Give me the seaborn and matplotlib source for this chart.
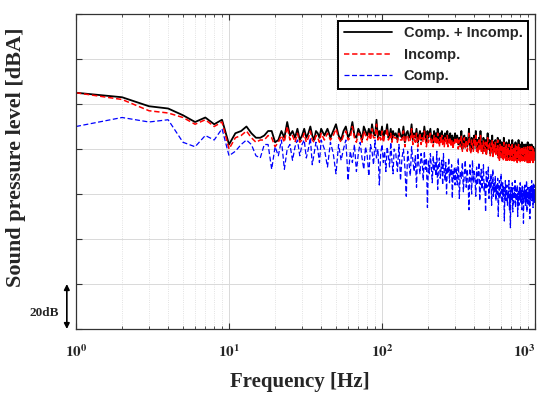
import numpy as np
import pandas as pd
import matplotlib
matplotlib.use("Agg")
import matplotlib.pyplot as plt
import seaborn as sns

# ---- frequency sampling [Hz] ----
freq_lo = np.arange(1, 41)          # 1 .. 40
freq_mid = np.arange(42, 121, 2)    # 42 .. 120
freq_hi1 = np.arange(123, 301, 3)   # 123 .. 300
freq_hi2 = np.arange(305, 1001, 5)  # 305 .. 1000

# ---- Comp. + Incomp. (total) [dBA] ----
total_lo = [105, 103, 99, 98, 95, 92, 94, 91, 93, 82,
            87, 88, 90, 87, 85, 85, 86, 88, 88, 83,
            84, 88, 85, 92, 86, 88, 85, 89, 84, 86,
            89, 85, 87, 90, 86, 84, 88, 87, 85, 89]
total_mid = [86, 89, 85, 88, 91, 86, 84, 88, 90, 85,
             87, 92, 86, 85, 89, 87, 84, 90, 88, 86,
             89, 85, 91, 87, 86, 93, 85, 88, 86, 90,
             84, 88, 87, 91, 85, 86, 89, 84, 88, 86]
total_hi1 = [87, 84, 89, 86, 85, 90, 83, 87, 88, 85,
             86, 91, 84, 87, 85, 89, 83, 86, 88, 84,
             87, 85, 90, 86, 83, 88, 85, 87, 89, 84,
             86, 83, 88, 85, 87, 84, 89, 85, 83, 87,
             85, 88, 84, 86, 83, 87, 85, 84, 88, 83,
             86, 84, 87, 83, 85, 86, 82, 85, 84, 87]
total_hi2 = [84, 86, 82, 85, 82, 88, 80, 84, 86, 81,
             85, 81, 83, 89, 82, 79, 85, 84, 80, 86,
             82, 88, 80, 84, 80, 85, 81, 88, 80, 83,
             79, 85, 82, 80, 84, 78, 83, 87, 80, 82,
             84, 78, 82, 80, 86, 77, 83, 79, 81, 84,
             78, 82, 79, 85, 77, 81, 76, 84, 80, 78,
             83, 77, 81, 76, 85, 79, 77, 82, 76, 83,
             80, 76, 82, 78, 84, 76, 80, 77, 82, 76,
             80, 84, 76, 78, 82, 75, 80, 77, 83, 76,
             79, 82, 75, 80, 77, 84, 76, 78, 82, 75,
             80, 76, 78, 83, 75, 80, 77, 76, 82, 78,
             75, 80, 78, 82, 76, 78, 80, 75, 83, 77,
             78, 75, 80, 77, 82, 75, 78, 80, 76, 82,
             76, 80, 78, 75, 81, 77, 76, 80, 78, 77]

# ---- Incomp. [dBA] ----
incomp_lo = [105, 102, 97, 96, 94, 91, 93, 90, 92, 80,
             85, 86, 88, 85, 83, 84, 84, 86, 85, 81,
             83, 86, 83, 90, 84, 86, 83, 87, 83, 84,
             87, 83, 85, 88, 84, 83, 86, 85, 83, 87]
incomp_mid = [84, 87, 84, 86, 89, 85, 83, 86, 88, 84,
              85, 90, 85, 83, 87, 86, 83, 88, 86, 84,
              87, 84, 89, 85, 85, 91, 84, 86, 84, 88,
              83, 86, 86, 89, 84, 85, 87, 83, 86, 85]
incomp_hi1 = [85, 83, 87, 84, 84, 88, 81, 86, 86, 83,
              84, 89, 82, 86, 83, 87, 81, 84, 87, 82,
              85, 83, 88, 84, 81, 86, 83, 85, 87, 82,
              84, 81, 86, 83, 85, 82, 87, 83, 81, 85,
              83, 86, 82, 84, 81, 85, 83, 82, 86, 81,
              84, 82, 85, 81, 83, 84, 80, 83, 82, 85]
incomp_hi2 = [83, 85, 80, 84, 81, 86, 79, 83, 85, 80,
              84, 79, 82, 87, 81, 78, 84, 82, 79, 85,
              81, 86, 79, 83, 78, 84, 80, 86, 79, 82,
              78, 84, 80, 79, 83, 77, 82, 85, 79, 81,
              83, 77, 81, 79, 84, 76, 82, 78, 80, 83,
              77, 81, 78, 84, 76, 80, 75, 82, 79, 77,
              82, 76, 80, 75, 83, 78, 76, 81, 75, 82,
              79, 75, 81, 77, 82, 75, 79, 76, 81, 75,
              79, 82, 75, 77, 81, 74, 79, 76, 82, 75,
              78, 81, 74, 79, 76, 82, 75, 77, 81, 74,
              79, 75, 77, 81, 74, 79, 76, 75, 81, 77,
              74, 79, 77, 81, 75, 77, 79, 74, 81, 76,
              77, 74, 79, 76, 81, 74, 77, 79, 75, 81,
              75, 79, 77, 74, 80, 76, 75, 79, 77, 76]

# ---- Comp. [dBA] ----
comp_lo = [90, 94, 92, 93, 83, 81, 86, 84, 89, 77,
           79, 82, 84, 82, 77, 76, 82, 82, 71, 81,
           77, 84, 71, 80, 82, 75, 81, 84, 77, 82,
           84, 76, 80, 85, 73, 78, 83, 80, 74, 84]
comp_mid = [80, 72, 83, 78, 69, 82, 75, 80, 84, 66,
            79, 74, 82, 70, 78, 83, 76, 71, 81, 77,
            68, 82, 79, 73, 84, 76, 80, 64, 78, 82,
            74, 79, 70, 81, 77, 72, 83, 75, 69, 80]
comp_hi1 = [78, 70, 82, 66, 76, 80, 72, 59, 79, 74,
            68, 81, 75, 70, 77, 63, 80, 73, 69, 78,
            74, 66, 79, 71, 76, 54, 75, 69, 78, 72,
            65, 77, 70, 74, 68, 79, 62, 73, 76, 67,
            71, 75, 64, 78, 70, 66, 74, 60, 72, 69,
            76, 65, 71, 68, 73, 58, 70, 67, 72, 64]
comp_hi2 = [72, 64, 76, 58, 70, 67, 74, 61, 69, 75,
            63, 71, 66, 53, 73, 68, 60, 75, 65, 70,
            67, 59, 72, 64, 69, 74, 57, 66, 71, 62,
            68, 73, 61, 65, 52, 70, 63, 67, 72, 58,
            66, 62, 69, 55, 64, 71, 59, 65, 61, 68,
            57, 64, 60, 67, 50, 63, 66, 58, 62, 69,
            61, 56, 65, 59, 63, 48, 60, 66, 57, 62,
            64, 55, 61, 58, 66, 53, 60, 45, 63, 57,
            59, 65, 52, 61, 56, 63, 58, 66, 54, 60,
            62, 57, 64, 50, 59, 61, 55, 63, 58, 65,
            56, 62, 59, 53, 64, 57, 61, 47, 60, 63,
            58, 64, 55, 61, 57, 66, 52, 60, 63, 56,
            61, 55, 63, 58, 49, 62, 57, 64, 59, 66,
            57, 63, 60, 54, 65, 58, 62, 56, 64, 60]

freq = np.concatenate([freq_lo, freq_mid, freq_hi1, freq_hi2])
df = pd.DataFrame({
    "freq": freq,
    "total": total_lo + total_mid + total_hi1 + total_hi2,
    "incomp": incomp_lo + incomp_mid + incomp_hi1 + incomp_hi2,
    "comp": comp_lo + comp_mid + comp_hi1 + comp_hi2,
})

sns.set_theme(style="white")
plt.rcParams["mathtext.fontset"] = "stix"

fig = plt.figure(figsize=(5.41, 3.95), dpi=100)
ax = fig.add_axes([0.1405, 0.167, 0.8485, 0.7976])

sns.lineplot(data=df, x="freq", y="total", color="black", lw=1.3,
             label="Comp. + Incomp.", ax=ax)
sns.lineplot(data=df, x="freq", y="incomp", color="#ff0000", lw=1.1,
             linestyle=(0, (3.5, 1.8)), label="Incomp.", ax=ax)
sns.lineplot(data=df, x="freq", y="comp", color="#0000ff", lw=0.9,
             linestyle=(0, (4, 2)), label="Comp.", ax=ax)

ax.set_xscale("log")
ax.set_xlim(1, 1000)
ax.set_ylim(0, 140)
ax.set_yticks(np.arange(0, 141, 20))
ax.set_yticklabels([])
ax.set_xticks([1, 10, 100, 1000])
ax.set_xticklabels([r"$\mathbf{10^{0}}$", r"$\mathbf{10^{1}}$",
                    r"$\mathbf{10^{2}}$", r"$\mathbf{10^{3}}$"], fontsize=11)
ax.get_xticklabels()[-1].set_horizontalalignment("right")

ax.grid(True, which="major", color="#d9d9d9", lw=0.7)
ax.grid(True, which="minor", axis="x", color="#d9d9d9", lw=0.6, ls=":")
ax.tick_params(which="both", direction="in", top=True, right=True,
               bottom=True, left=True, color="#333333")
ax.tick_params(which="major", length=4, width=0.8, pad=10)
ax.tick_params(which="minor", length=2.5, width=0.6)
for s in ax.spines.values():
    s.set_color("#333333")
    s.set_linewidth(0.9)

ax.set_xlabel("Frequency [Hz]", fontsize=15, fontweight="bold",
              family="Liberation Serif")
ax.set_ylabel("Sound pressure level [dBA]", fontsize=16, fontweight="bold",
              family="Liberation Serif")
ax.xaxis.set_label_coords(0.488, -0.135)
ax.yaxis.set_label_coords(-0.11, 0.546)

leg = ax.legend(loc="upper right", frameon=True, fancybox=False,
                framealpha=1, edgecolor="black", handlelength=3.3,
                borderaxespad=0.45, labelspacing=0.5,
                prop={"family": "Liberation Sans", "weight": "bold", "size": 10.5})
leg.get_frame().set_linewidth(1.4)

# 20 dB scale arrow
ax.annotate("", xy=(-0.02, 20), xytext=(-0.02, 0),
            xycoords=ax.get_yaxis_transform(),
            arrowprops=dict(arrowstyle="<|-|>", color="black", lw=1.2,
                            mutation_scale=8, shrinkA=0, shrinkB=0))
ax.text(-0.07, 7, "20dB", transform=ax.get_yaxis_transform(),
        ha="center", va="center", fontsize=9.5, fontweight="bold",
        family="Liberation Serif")

fig.savefig("out.png", dpi=100)
